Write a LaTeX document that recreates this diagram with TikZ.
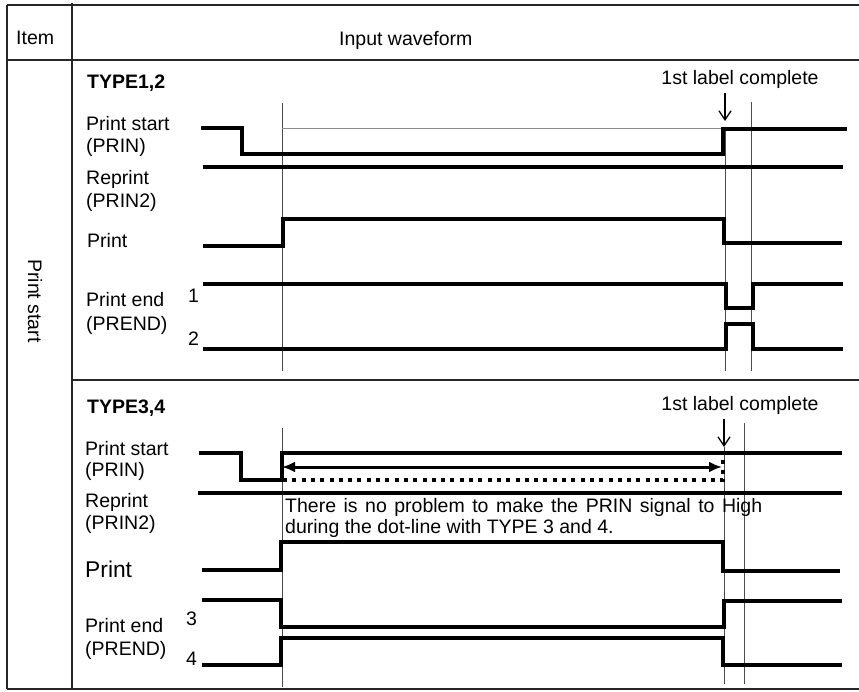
\documentclass[tikz,border=0pt]{standalone}
\usepackage{fontspec}
\setmainfont{Liberation Sans}
\usetikzlibrary{arrows.meta}
\begin{document}
\begin{tikzpicture}[x=1pt,y=-1pt,
  txt/.style={font=\fontsize{19.5}{21}\selectfont, inner sep=0pt, anchor=base west},
  bigtxt/.style={font=\fontsize{22.8}{24}\selectfont, inner sep=0pt, anchor=base west},
  boldtxt/.style={font=\fontsize{19.5}{21}\selectfont\bfseries, inner sep=0pt, anchor=base west},
  sig/.style={line width=3.2pt, line join=miter},
  frameline/.style={line width=1.6pt, black!85},
  guide/.style={line width=0.9pt, black!70},
  thinref/.style={line width=0.9pt, black!45},
  downarrow/.style={line width=1.3pt, -{Straight Barb[length=9pt,width=12pt]}},
  spanarrow/.style={line width=3pt, {Latex[length=13pt,width=11pt]}-{Latex[length=13pt,width=11pt]}},
  dotline/.style={line width=3.3pt, dash pattern=on 4pt off 5.3pt}
]
\useasboundingbox (0,0) rectangle (859,691);
% frame
\draw[frameline] (7,5) -- (859,5);
\draw[frameline] (7,60) -- (859,60);
\draw[frameline] (7,689) -- (859,689);
\draw[frameline] (7,5) -- (7,689);
\draw[frameline] (72,3) -- (72,689);
\draw[frameline] (72,380) -- (859,380);
% header
\node[txt] (item) at (16,44) {Item};
\node[txt] (inw) at (339,45) {Input waveform};
\node[font=\fontsize{19.5}{21}\selectfont, inner sep=0pt, rotate=-90] (pstart) at (35,301) {Print start};

% ================= TYPE1,2 =================
\node[boldtxt] (t12) at (87,88) {TYPE1,2};
\node[txt] (a1) at (86,130) {Print start};
\node[txt] (a2) at (86,152) {(PRIN)};
\node[txt] (b1) at (86,184) {Reprint};
\node[txt] (b2) at (86,207) {(PRIN2)};
\node[txt] (c1) at (87,247) {Print};
\node[txt] (d1) at (86,306) {Print end};
\node[txt] (d2) at (86,330) {(PREND)};
\node[txt] (n1) at (188,302) {1};
\node[txt] (n2) at (188,345) {2};
\node[font=\fontsize{19.5}{21}\selectfont, inner sep=0pt, anchor=base] (lc1) at (740,84) {1st label complete};
\coordinate (lc1s) at (725,93);
\coordinate (lc1e) at (725,121);
\draw[downarrow] (lc1s) -- (lc1e);

% guides
\draw[guide] (282,103) -- (282,371);
\draw[guide] (725,129) -- (725,371);
\draw[guide] (751,102) -- (751,371);
\draw[thinref] (282,128) -- (723,128);

% signals
\draw[sig] (201,128) -- (242,128) -- (242,154) -- (723,154) -- (723,129) -- (847,129);
\draw[sig] (203,167) -- (843,167);
\draw[sig] (203,246) -- (283,246) -- (283,219) -- (724,219) -- (724,243) -- (842,243);
\draw[sig] (203,284) -- (726,284) -- (726,308) -- (753,308) -- (753,284) -- (843,284);
\draw[sig] (203,349) -- (726,349) -- (726,324) -- (753,324) -- (753,349) -- (843,349);

% ================= TYPE3,4 =================
\node[boldtxt] (t34) at (87,413) {TYPE3,4};
\node[txt] (e1) at (85,455) {Print start};
\node[txt] (e2) at (85,476) {(PRIN)};
\node[txt] (f1) at (85,507) {Reprint};
\node[txt] (f2) at (85,529) {(PRIN2)};
\node[bigtxt] (g1) at (85,577) {Print};
\node[txt] (h1) at (85,632) {Print end};
\node[txt] (h2) at (85,655) {(PREND)};
\node[txt] (n3) at (186,625) {3};
\node[txt] (n4) at (186,665) {4};
\node[font=\fontsize{19.5}{21}\selectfont, inner sep=0pt, anchor=base] (lc2) at (740,410) {1st label complete};
\coordinate (lc2s) at (724,419);
\coordinate (lc2e) at (724,447);
\draw[downarrow] (lc2s) -- (lc2e);

% guides
\draw[guide] (282,428) -- (282,687);
\draw[guide] (724,447) -- (724,684);
\draw[guide] (744,423) -- (744,684);

% note text
\node[txt] (note1) at (285,512) {\makebox[477pt][s]{There is no problem to make the PRIN signal to High}};
\node[txt] (note2) at (285,533) {during the dot-line with TYPE 3 and 4.};

% span arrow and dotted line
\coordinate (sa) at (282,467);
\coordinate (sb) at (722,467);
\draw[spanarrow] (sa) -- (sb);
\draw[dotline] (283,480) -- (723,480) -- (723,454);

% signals
\draw[sig] (199,453) -- (241,453) -- (241,480) -- (282,480) -- (282,453) -- (842,453);
\draw[sig] (198,493) -- (842,493);
\draw[sig] (202,570) -- (281,570) -- (281,542) -- (723,542) -- (723,571) -- (840,571);
\draw[sig] (202,600) -- (281,600) -- (281,627) -- (724,627) -- (724,601) -- (842,601);
\draw[sig] (202,665) -- (281,665) -- (281,638) -- (723,638) -- (723,665) -- (842,665);
\end{tikzpicture}
\end{document}
